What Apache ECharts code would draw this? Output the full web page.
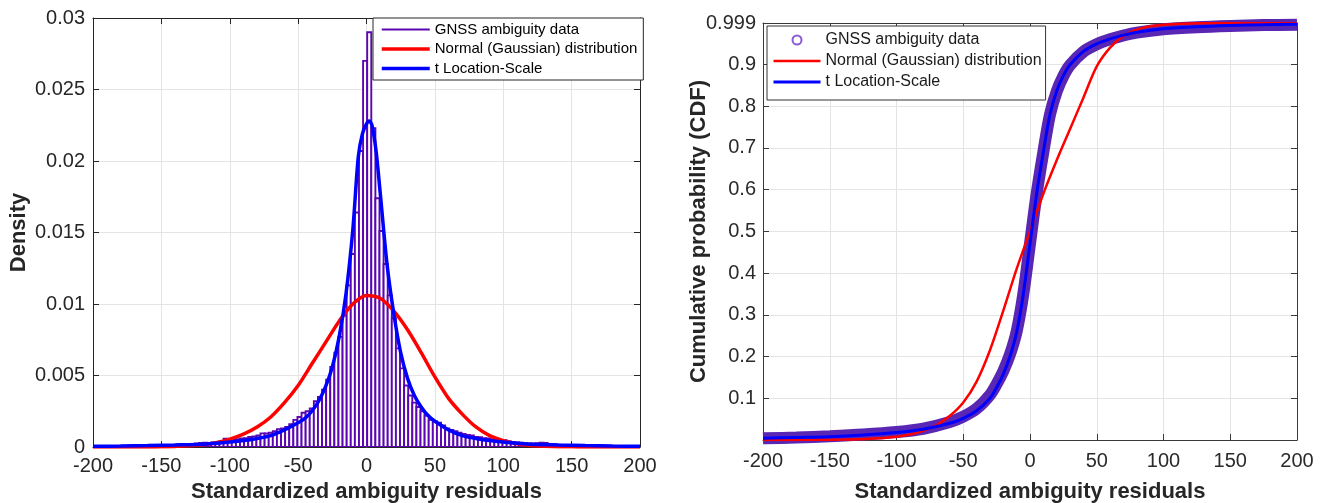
<!DOCTYPE html>
<html>
<head>
<meta charset="utf-8">
<script src="https://cdn.jsdelivr.net/npm/echarts@6/dist/echarts.min.js"></script>
<style>
  html, body { margin: 0; padding: 0; background: #fff; }
  #main { width: 1322px; height: 503px; }
</style>
</head>
<body>
<div id="main"></div>
<script>
// histogram: bins of width 3 starting at -197.5 (pdf normalised)
const binStart = -197.5
const binWidth = 3
const histDensity = [
  0.00004, 0.00005, 0.00004, 0.00006, 0.00005, 0.00006, 0.00007, 0.00006, 0.00008, 0.00007,
  0.00008, 0.0001, 0.00009, 0.00011, 0.0001, 0.00012, 0.00013, 0.00012, 0.00015, 0.00016,
  0.00018, 0.0002, 0.00019, 0.00022, 0.00025, 0.00028, 0.0003, 0.00027, 0.00032, 0.00036,
  0.0004, 0.00058, 0.00045, 0.0005, 0.00055, 0.0006, 0.00062, 0.0007, 0.00074, 0.0008,
  0.00095, 0.00094, 0.001, 0.0011, 0.00125, 0.0013, 0.0014, 0.0016, 0.0019, 0.0021,
  0.0024, 0.0025, 0.0027, 0.0032, 0.0035, 0.0040, 0.0047, 0.0056, 0.0066, 0.0077,
  0.0092, 0.0113, 0.0135, 0.0164, 0.0207, 0.0270,
  0.0290, 0.0223, 0.0174, 0.0151, 0.0128, 0.0106,
  0.0090, 0.0069, 0.0055, 0.0043, 0.0036, 0.0031, 0.0028, 0.0025, 0.0022, 0.0019,
  0.0018, 0.0017, 0.0015, 0.0013, 0.0012, 0.0011, 0.0010, 0.00092, 0.00085, 0.0008,
  0.0007, 0.00068, 0.00062, 0.0006, 0.00052, 0.0005, 0.0005, 0.00048, 0.0004, 0.00036,
  0.00032, 0.0003, 0.00027, 0.00025, 0.00024, 0.00026, 0.0003, 0.00028, 0.00022, 0.00018,
  0.00016, 0.00014, 0.00012, 0.00011, 0.0001, 0.00009, 0.00008, 0.00008, 0.00007, 0.00006,
  0.00006, 0.00005, 0.00005, 0.00004, 0.00005, 0.00004, 0.00003, 0.00004, 0.00003, 0.00003
]

// fitted pdf curves (left panel)
const normPdfX = [-200, -160, -150, -140, -130, -120, -110, -100, -90, -80, -70, -60, -50, -40, -30, -20, -10, 0, 10, 20, 30, 40, 50, 60, 70, 80, 90, 100, 110, 120, 130, 140, 150, 160, 200]
const normPdfY = [0, 0, 0.00001, 0.00004, 0.00008, 0.00015, 0.0003, 0.00055, 0.0009, 0.0014, 0.0021, 0.0031, 0.0043, 0.0058, 0.0073, 0.0088, 0.0100, 0.0106, 0.0104, 0.0095, 0.0082, 0.0066, 0.0049, 0.0034, 0.0023, 0.0014, 0.0008, 0.00045, 0.00022, 0.0001, 0.00005, 0.00002, 0.00001, 0, 0]
const tPdfX = [-200, -180, -160, -140, -120, -100, -90, -80, -70, -60, -50, -45, -40, -35, -30, -25, -20, -15, -10, -6, -3, 0, 2, 4, 7, 10, 15, 20, 25, 30, 35, 40, 45, 50, 60, 70, 80, 90, 100, 120, 140, 160, 180, 200]
const tPdfY = [0.00005, 0.00007, 0.0001, 0.00014, 0.0002, 0.00035, 0.00045, 0.0006, 0.0008, 0.0012, 0.0017, 0.002, 0.0025, 0.0032, 0.0042, 0.0056, 0.0077, 0.0107, 0.0152, 0.0203, 0.0219, 0.0226, 0.0228, 0.0225, 0.0207, 0.0178, 0.0128, 0.0093, 0.0066, 0.0048, 0.0036, 0.0028, 0.0022, 0.0018, 0.0012, 0.0008, 0.0006, 0.00045, 0.00035, 0.0002, 0.00014, 0.0001, 0.00007, 0.00005]

// cdf curves (right panel)
const dataCdfX = [-200, -175, -150, -125, -100, -80, -60, -50, -40, -30, -25, -20, -15, -10, -5, 0, 5, 10, 15, 20, 25, 30, 40, 50, 60, 70, 80, 100, 125, 150, 175, 200]
const dataCdfY = [0.004, 0.006, 0.009, 0.013, 0.019, 0.027, 0.043, 0.056, 0.075, 0.108, 0.134, 0.165, 0.205, 0.26, 0.35, 0.47, 0.59, 0.69, 0.78, 0.835, 0.872, 0.898, 0.93, 0.948, 0.96, 0.969, 0.976, 0.984, 0.989, 0.992, 0.994, 0.995]
const tCdfX = [-200, -175, -150, -125, -100, -80, -60, -50, -40, -30, -25, -20, -15, -10, -5, 0, 5, 10, 15, 20, 25, 30, 40, 50, 60, 70, 80, 100, 125, 150, 175, 200]
const tCdfY = [0.004, 0.006, 0.008, 0.012, 0.018, 0.026, 0.04, 0.052, 0.07, 0.1, 0.126, 0.158, 0.2, 0.258, 0.35, 0.47, 0.59, 0.69, 0.78, 0.836, 0.873, 0.899, 0.931, 0.949, 0.961, 0.97, 0.977, 0.985, 0.99, 0.993, 0.995, 0.996]
const normCdfX = [-200, -160, -140, -120, -100, -90, -80, -70, -60, -50, -40, -30, -20, -10, 0, 10, 20, 30, 40, 50, 60, 70, 80, 90, 100, 120, 150, 200]
const normCdfY = [0, 0.0003, 0.001, 0.003, 0.008, 0.013, 0.022, 0.036, 0.058, 0.09, 0.14, 0.215, 0.31, 0.41, 0.5, 0.59, 0.67, 0.745, 0.82, 0.895, 0.94, 0.968, 0.983, 0.991, 0.995, 0.998, 0.999, 0.999]

const legendNames = {
  dataL: 'GNSS ambiguity data',
  normL: 'Normal (Gaussian) distribution',
  tL: 't Location-Scale',
  dataR: 'GNSS ambiguity data',
  normR: 'Normal (Gaussian) distribution',
  tR: 't Location-Scale'
}

const zip = (xs, ys) => xs.map((x, i) => [x, ys[i]])
const histData = histDensity.map((h, i) => [binStart + i * binWidth, binStart + (i + 1) * binWidth, h])

const FONT = 'Liberation Sans, Arial, sans-serif'
const gridColor = '#e4e4e4'

// matlab style box: ticks inside on all four sides
function boxAxes (gridIndex, axisColor, xMin, xMax, xInt) {
  const line = { show: true, onZero: false, lineStyle: { color: axisColor, width: 1 } }
  const tick = { show: true, inside: true, length: 6, lineStyle: { color: axisColor } }
  return {
    x: {
      gridIndex,
      type: 'value',
      position: 'top',
      min: xMin,
      max: xMax,
      interval: xInt,
      axisLine: line,
      axisTick: tick,
      axisLabel: { show: false },
      splitLine: { show: false }
    },
    tick,
    line
  }
}

function curve (name, axis, xs, ys, color, width, smooth) {
  return {
    name,
    type: 'line',
    xAxisIndex: axis,
    yAxisIndex: axis,
    symbol: 'none',
    smooth,
    data: zip(xs, ys),
    lineStyle: { color, width },
    itemStyle: { color }
  }
}

const chart = echarts.init(document.getElementById('main'))
const bl = boxAxes(0, '#262626', -200, 200, 50)
const br = boxAxes(1, '#3a3a3a', -200, 200, 50)

chart.setOption({
  animation: false,
  backgroundColor: '#fff',
  textStyle: { fontFamily: FONT },
  grid: [
    { left: 93, top: 18, width: 547, height: 429, outerBoundsMode: 'none' },
    { left: 763, top: 23, width: 534, height: 417, outerBoundsMode: 'none' }
  ],
  legend: [
    {
      orient: 'vertical',
      left: 373,
      top: 18,
      padding: [4, 6, 4, 7],
      itemWidth: 48,
      itemHeight: 15,
      itemGap: 4.5,
      backgroundColor: '#fff',
      borderColor: '#262626',
      borderWidth: 1,
      borderRadius: 0,
      selectedMode: false,
      lineStyle: { width: 'inherit' },
      itemStyle: { opacity: 0 },
      textStyle: { fontFamily: FONT, fontSize: 15, color: '#000' },
      formatter: name => legendNames[name],
      data: ['dataL', 'normL', 'tL']
    },
    {
      orient: 'vertical',
      left: 767,
      top: 26,
      padding: [6, 4, 10, 5],
      itemWidth: 47,
      itemHeight: 9,
      itemGap: 5,
      backgroundColor: '#fff',
      borderColor: '#333',
      borderWidth: 1,
      borderRadius: 0,
      selectedMode: false,
      lineStyle: { width: 'inherit' },
      itemStyle: { opacity: 0 },
      textStyle: { fontFamily: FONT, fontSize: 16, color: '#1a1a1a' },
      formatter: name => legendNames[name],
      data: [
        { name: 'dataR', icon: 'emptyCircle', itemStyle: { color: '#8a5ad6', opacity: 1 } },
        'normR',
        'tR'
      ]
    }
  ],
  xAxis: [
    {
      gridIndex: 0,
      type: 'value',
      min: -200,
      max: 200,
      interval: 50,
      name: 'Standardized ambiguity residuals',
      nameLocation: 'middle',
      nameGap: 34,
      nameMoveOverlap: false,
      nameTextStyle: { fontFamily: FONT, fontSize: 22, fontWeight: 'bold', color: '#262626' },
      axisLine: bl.line,
      axisTick: bl.tick,
      axisLabel: { fontFamily: FONT, fontSize: 20, color: '#262626', margin: 9 },
      splitLine: { show: true, lineStyle: { color: gridColor, width: 1 } }
    },
    bl.x,
    {
      gridIndex: 1,
      type: 'value',
      min: -200,
      max: 200,
      interval: 50,
      name: 'Standardized ambiguity residuals',
      nameLocation: 'middle',
      nameGap: 41,
      nameMoveOverlap: false,
      nameTextStyle: { fontFamily: FONT, fontSize: 22, fontWeight: 'bold', color: '#262626' },
      axisLine: br.line,
      axisTick: br.tick,
      axisLabel: { fontFamily: FONT, fontSize: 20, color: '#2a2a2a', margin: 11 },
      splitLine: { show: true, lineStyle: { color: gridColor, width: 1 } }
    },
    br.x
  ],
  yAxis: [
    {
      gridIndex: 0,
      type: 'value',
      min: 0,
      max: 0.03,
      interval: 0.005,
      name: 'Density',
      nameLocation: 'middle',
      nameGap: 63,
      nameMoveOverlap: false,
      nameTextStyle: { fontFamily: FONT, fontSize: 22, fontWeight: 'bold', color: '#262626' },
      axisLine: bl.line,
      axisTick: bl.tick,
      axisLabel: { fontFamily: FONT, fontSize: 20, color: '#262626', margin: 8 },
      splitLine: { show: true, lineStyle: { color: gridColor, width: 1 } }
    },
    {
      gridIndex: 0,
      type: 'value',
      position: 'right',
      min: 0,
      max: 0.03,
      interval: 0.005,
      axisLine: bl.line,
      axisTick: bl.tick,
      axisLabel: { show: false },
      splitLine: { show: false }
    },
    {
      gridIndex: 1,
      type: 'value',
      min: 0,
      max: 0.999,
      interval: 0.1,
      name: 'Cumulative probability (CDF)',
      nameLocation: 'middle',
      nameGap: 53,
      nameMoveOverlap: false,
      nameTextStyle: { fontFamily: FONT, fontSize: 22, fontWeight: 'bold', color: '#262626' },
      axisLine: br.line,
      axisTick: br.tick,
      axisLabel: {
        fontFamily: FONT,
        fontSize: 20,
        color: '#2a2a2a',
        margin: 7,
        formatter: v => (v === 0 ? '' : String(+v.toFixed(3)))
      },
      splitLine: { show: true, lineStyle: { color: gridColor, width: 1 } }
    },
    {
      gridIndex: 1,
      type: 'value',
      position: 'right',
      min: 0,
      max: 0.999,
      interval: 0.1,
      axisLine: br.line,
      axisTick: br.tick,
      axisLabel: { show: false },
      splitLine: { show: false }
    }
  ],
  series: [
    {
      name: 'hist',
      type: 'custom',
      xAxisIndex: 0,
      yAxisIndex: 0,
      clip: true,
      encode: { x: [0, 1], y: 2 },
      data: histData,
      renderItem (params, api) {
        const p0 = api.coord([api.value(0), api.value(2)])
        const p1 = api.coord([api.value(1), 0])
        return {
          type: 'rect',
          shape: { x: p0[0], y: p0[1], width: p1[0] - p0[0], height: p1[1] - p0[1] },
          style: { fill: '#fff', stroke: '#5b06b0', lineWidth: 1.9 }
        }
      }
    },
    // legend entry only, the bars above carry the data
    curve('dataL', 0, [], [], '#5b06b0', 2, false),
    curve('normL', 0, normPdfX, normPdfY, '#ff0000', 3.5, 0.3),
    curve('tL', 0, tPdfX, tPdfY, '#0000ff', 3.5, 0.3),
    curve('dataR', 2, dataCdfX, dataCdfY, '#5a26b4', 12, 0.3),
    curve('normR', 2, normCdfX, normCdfY, '#ff0000', 2.5, 0.3),
    curve('tR', 2, tCdfX, tCdfY, '#0000ff', 3, 0.3)
  ]
})
</script>
</body>
</html>
